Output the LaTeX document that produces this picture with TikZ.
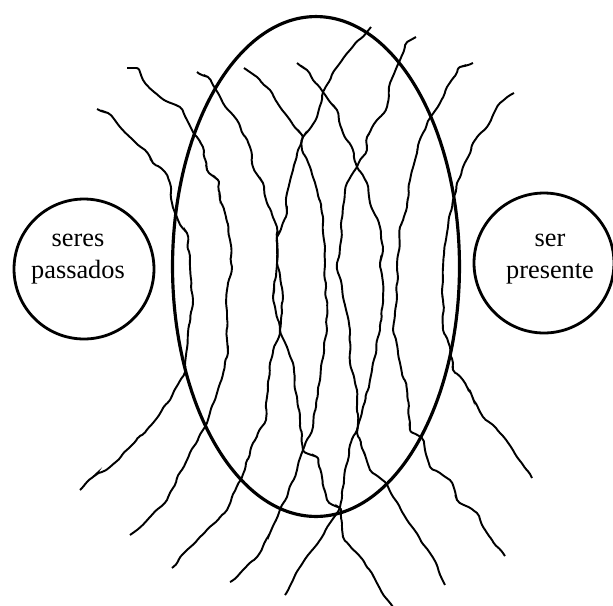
\documentclass[tikz,border=0pt]{standalone}
\usepackage{fontspec}
\setmainfont{Liberation Serif}
\usetikzlibrary{shapes.geometric,decorations.pathmorphing}

\begin{document}
\begin{tikzpicture}[x=0.02cm, y=-0.02cm,
  wavy/.style={line width=1.1pt, rounded corners=1.2pt, decorate, decoration={random steps, segment length=3.5pt, amplitude=0.75pt}},
  ring/.style={circle, draw, line width=1.6pt, minimum size=2.8cm, inner sep=0pt},
  lbl/.style={align=center, font=\fontsize{15pt}{18pt}\selectfont}]
  \useasboundingbox (0,0) rectangle (613,606);
  \node[ellipse, draw, line width=1.8pt, minimum width=5.74cm, minimum height=10cm, inner sep=0pt] (field) at (316,266.5) {};
  \node[ring] (past) at (84,269) {};
  \node[ring] (now) at (544,263) {};
  \node[lbl] (pastlbl) at (78,259) {seres\\passados};
  \node[lbl] (nowlbl) at (550,259) {ser\\presente};
  % field lines, left to right
  \draw[wavy] plot coordinates {(97,109) (108,113) (120,127) (133,140) (145,150) (153,163) (165,172) (170,183) (172,203) (178,220) (187,233) (190,267) (193,300) (188,333) (186,355) (185,372) (170,400) (153,423) (130,447) (110,467) (93,477) (80,490)};
  \draw[wavy] plot coordinates {(127,68) (137,68) (143,80) (160,97) (180,107) (187,120) (193,132) (203,147) (207,170) (218,180) (220,200) (225,213) (230,240) (232,267) (227,290) (227,317) (228,353) (217,393) (207,423) (187,460) (167,500) (150,517) (130,535)};
  \draw[wavy] plot coordinates {(197,72) (208,77) (213,85) (223,103) (237,120) (250,147) (253,167) (263,183) (267,203) (277,227) (277,247) (277,263) (273,297) (280,330) (270,363) (267,397) (266,420) (253,443) (242,477) (227,510) (200,537) (185,552) (172,568)};
  \draw[wavy] plot coordinates {(244,68) (257,77) (270,90) (280,107) (290,120) (302,135) (302,150) (310,167) (317,190) (323,217) (325,247) (325,263) (327,330) (320,380) (313,427) (303,450) (297,470) (287,497) (282,505) (270,533) (257,557) (243,570) (230,582)};
  \draw[wavy] plot coordinates {(297,63) (307,70) (313,80) (323,92) (337,110) (343,133) (353,150) (357,167) (367,183) (370,203) (380,227) (383,247) (380,263) (383,297) (380,330) (373,363) (370,380) (363,407) (357,430) (350,445) (345,470) (340,507) (320,540) (300,567) (285,595)};
  \draw[wavy] plot coordinates {(371,27) (367,32) (350,50) (337,67) (323,92) (317,117) (303,137) (298,150) (293,170) (287,193) (287,213) (277,237) (277,263) (283,297) (280,330) (287,347) (293,363) (297,397) (300,420) (303,450) (317,457) (322,477) (327,500) (340,508) (343,537) (363,560) (378,585) (393,607)};
  \draw[wavy] plot coordinates {(416,37) (407,42) (400,60) (390,83) (387,107) (377,120) (367,137) (367,150) (357,167) (347,183) (343,207) (340,247) (337,263) (343,297) (350,330) (350,363) (357,390) (358,423) (357,433) (365,455) (370,470) (385,482) (407,520) (430,553) (445,585)};
  \draw[wavy] plot coordinates {(473,63) (460,67) (447,87) (440,103) (432,115) (423,133) (417,153) (410,180) (407,207) (400,227) (397,267) (397,297) (393,330) (400,363) (407,390) (410,430) (422,438) (430,467) (450,480) (457,500) (477,513) (487,533) (505,556)};
  \draw[wavy] plot coordinates {(514,93) (500,103) (487,127) (473,143) (463,167) (457,183) (453,200) (447,233) (443,267) (443,300) (443,330) (450,347) (453,370) (463,380) (467,387) (483,417) (500,433) (517,457) (532,478)};
\end{tikzpicture}
\end{document}
